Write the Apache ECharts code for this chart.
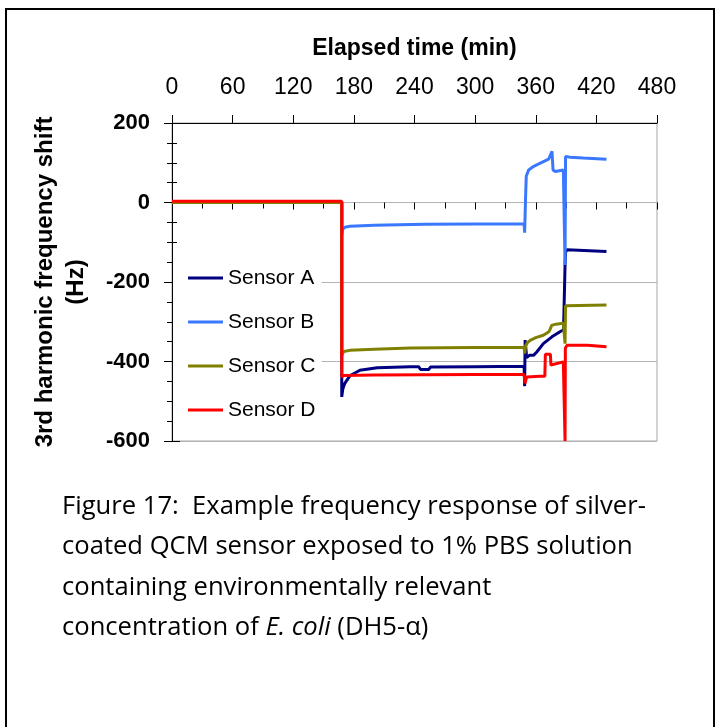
<!DOCTYPE html>
<html>
<head>
<meta charset="utf-8">
<script src="https://cdn.jsdelivr.net/npm/echarts@6/dist/echarts.min.js"></script>
<style>
  html, body { margin: 0; padding: 0; background: #fff; }
  #chart { width: 716px; height: 727px; }
</style>
</head>
<body>
<div id="chart"></div>
<script>
// Axis ticks
const timeTicks = [0, 60, 120, 180, 240, 300, 360, 420, 480];
const shiftTicks = [-600, -400, -200, 0, 200];

// Elapsed time (min) and 3rd harmonic frequency shift (Hz) for each sensor
const timeA  = [0, 168, 168, 169, 171, 176, 186, 203, 236, 244, 246, 254, 256, 300, 348.5, 349, 349.5, 351, 354, 358, 361, 367.5, 376, 384, 387.5, 389, 389.5, 391, 430];
const shiftA = [0, 0, -489, -470, -455, -436, -422, -416, -413, -413, -420, -420, -414, -413, -412, -462, -346, -390, -384, -384, -376, -355, -338, -325, -320, -157, -125, -119, -123];

const timeB  = [0, 168, 168, 169, 171, 176, 200, 250, 300, 348.5, 349, 350, 350.6, 353, 358, 364.5, 372.8, 374.4, 376.1, 377.1, 379.4, 387.3, 389, 389.5, 390.6, 394, 407, 430];
const shiftB = [0, 0, -81, -68, -62, -60, -57, -55, -54, -54, -76, 19, 66, 82, 91, 99, 109, 112, 129, 82, 78, 82, -157, 116, 116, 114, 112, 109];

const timeC  = [0, 168, 168, 170, 176, 200, 236, 300, 348.5, 349, 350, 352, 355, 360, 367.5, 373, 374.4, 375.8, 380, 387.3, 389, 389.5, 391, 430];
const shiftC = [0, 0, -384, -375, -372, -369, -366, -365, -365, -380, -360, -352, -346, -340, -334, -325, -318, -309, -306, -304, -355, -260, -258, -258];

const timeD  = [0, 168, 168, 170, 200, 300, 348.5, 349.4, 351, 364, 369, 369.5, 374.5, 375, 387.3, 389, 389.3, 391, 411, 430];
const shiftD = [3, 3, -439, -435, -434, -433, -433, -455, -439, -437, -437, -382, -382, -409, -401, -600, -366, -359, -359, -363];

const sensorNames  = ['Sensor A', 'Sensor B', 'Sensor C', 'Sensor D'];
const sensorColors = ['#000080', '#3a78ff', '#808000', '#ff0000'];
const sensorTimes  = [timeA, timeB, timeC, timeD];
const sensorShifts = [shiftA, shiftB, shiftC, shiftD];

const captionLines = [
  'Figure 17:  Example frequency response of silver-',
  'coated QCM sensor exposed to 1% PBS solution',
  'containing environmentally relevant',
  'concentration of {i|E. coli} (DH5-\u03b1)'
];

const AX_FONT = '"Liberation Sans", Arial, sans-serif';
const CAP_FONT = '"Open Sans", "Noto Sans", sans-serif';

function pairs(ts, vs) { return ts.map((t, i) => [t, vs[i]]); }

const xMin = timeTicks[0], xMax = timeTicks[timeTicks.length - 1];
const xStep = timeTicks[1] - timeTicks[0];
const yMin = shiftTicks[0], yMax = shiftTicks[shiftTicks.length - 1];
const yStep = shiftTicks[1] - shiftTicks[0];

const chart = echarts.init(document.getElementById('chart'), null, { renderer: 'canvas' });

const option = {
  animation: false,
  backgroundColor: '#fff',
  grid: {
    left: 172, top: 123, width: 485, height: 318,
    show: true, borderColor: '#a6a6a6', borderWidth: 1,
    backgroundColor: 'transparent', containLabel: false, outerBoundsMode: 'none'
  },
  xAxis: [
    {
      type: 'value', position: 'top', min: xMin, max: xMax, interval: xStep,
      name: 'Elapsed time (min)', nameLocation: 'middle', nameGap: 63,
      nameTextStyle: { fontFamily: AX_FONT, fontSize: 23, fontWeight: 'bold', color: '#000' },
      axisLine: { show: true, onZero: false, lineStyle: { color: '#000', width: 1 } },
      axisTick: { show: true, inside: false, length: 8, lineStyle: { color: '#000', width: 1 } },
      minorTick: { show: false },
      axisLabel: { show: true, margin: 24, fontFamily: AX_FONT, fontSize: 23, color: '#000' },
      splitLine: { show: false }
    },
    {
      type: 'value', position: 'top', min: xMin, max: xMax, interval: xStep,
      axisLine: { show: false },
      axisTick: { show: true, inside: true, length: 7, lineStyle: { color: '#000', width: 1 } },
      minorTick: { show: true, splitNumber: 2, length: 6, lineStyle: { color: '#000', width: 1 } },
      axisLabel: { show: false },
      splitLine: { show: false }
    }
  ],
  yAxis: [
    {
      type: 'value', position: 'left', min: yMin, max: yMax, interval: yStep,
      name: '3rd harmonic frequency shift\n(Hz)', nameLocation: 'middle', nameGap: 80,
      nameTextStyle: { fontFamily: AX_FONT, fontSize: 24, fontWeight: 'bold', color: '#000', lineHeight: 31 },
      axisLine: { show: true, onZero: false, lineStyle: { color: '#000', width: 1 } },
      axisTick: { show: true, inside: false, length: 8, lineStyle: { color: '#000', width: 1 } },
      minorTick: { show: true, splitNumber: 4, length: 5, lineStyle: { color: '#000', width: 1 } },
      axisLabel: { show: true, margin: 22, fontFamily: AX_FONT, fontSize: 22, fontWeight: 'bold', color: '#000' },
      splitLine: { show: true, lineStyle: { color: '#b4b4b4', width: 1 } }
    },
    {
      type: 'value', position: 'left', min: yMin, max: yMax, interval: yStep,
      axisLine: { show: false },
      axisTick: { show: true, inside: true, length: 8, lineStyle: { color: '#000', width: 1 } },
      minorTick: { show: true, splitNumber: 4, length: 5, lineStyle: { color: '#000', width: 1 } },
      axisLabel: { show: false },
      splitLine: { show: false }
    }
  ],
  legend: {
    orient: 'vertical', left: 173, top: 259,
    padding: [8, 6, 8, 15], backgroundColor: '#fff',
    icon: 'rect', itemWidth: 35, itemHeight: 3, itemGap: 22,
    textStyle: { fontFamily: AX_FONT, fontSize: 21, color: '#000', lineHeight: 22 },
    data: sensorNames
  },
  series: sensorNames.map((name, i) => ({
    name: name,
    type: 'line',
    xAxisIndex: 0, yAxisIndex: 0,
    data: pairs(sensorTimes[i], sensorShifts[i]),
    showSymbol: false, symbol: 'none',
    color: sensorColors[i],
    lineStyle: { color: sensorColors[i], width: 3 },
    clip: true,
    z: 2 + i
  })),
  graphic: [
    {
      type: 'rect', silent: true, z: 100,
      shape: { x: 6, y: 9, width: 708, height: 740 },
      style: { fill: 'none', stroke: '#000', lineWidth: 2 }
    },
    {
      type: 'text', silent: true, x: 62, y: 486,
      style: {
        text: captionLines.join('\n'),
        fill: '#000', fontFamily: CAP_FONT, fontSize: 25.6, lineHeight: 40.5,
        align: 'left', verticalAlign: 'top',
        rich: { i: { fontFamily: CAP_FONT, fontSize: 25.6, fontStyle: 'italic', fill: '#000', lineHeight: 40.5 } }
      }
    }
  ]
};

chart.setOption(option);
</script>
</body>
</html>
